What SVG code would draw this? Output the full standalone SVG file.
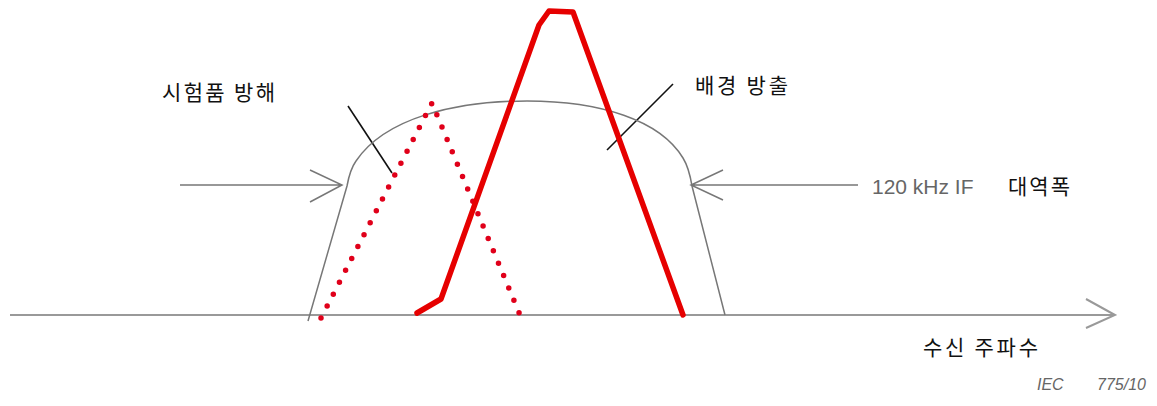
<svg xmlns="http://www.w3.org/2000/svg" width="1157" height="406" viewBox="0 0 1157 406">
<style>
.kr{font-family:"Noto Sans CJK KR","Noto Sans",sans-serif;font-size:21px;fill:#111}
.gl{fill:none;stroke:#777;stroke-width:1.5}
.ax{fill:none;stroke:#999;stroke-width:2}
.ld{stroke:#111;stroke-width:1.6}
.red{fill:none;stroke:#e60000;stroke-width:5.5;stroke-linejoin:round;stroke-linecap:round}
.dot{fill:none;stroke:#e0001a;stroke-width:5.5;stroke-linecap:round;stroke-dasharray:0 13.4}
.iec{font-family:"Liberation Sans",Arial,sans-serif;font-size:16px;font-style:italic;fill:#666}
</style>
<rect width="1157" height="406" fill="#fff"/>
<g id="connectors">
<path id="axis" class="ax" d="M10,315 H1115 M1086,299 L1115,315 L1086,328"/>
<path id="arrow-left" class="gl" d="M180,185 H342 M310,170 L342,185 L310,202"/>
<path id="arrow-right" class="gl" d="M858,185 H691 M723,170 L691,185 L723,200"/>
<line id="leader-dut" class="ld" x1="348" y1="106" x2="392" y2="173"/>
<line id="leader-bg" class="ld" x1="673" y1="84" x2="607" y2="150"/>
</g>
<g id="if-band">
<path class="gl" d="M308,321 L347,186 C349,175 351,168 356,161 C 385,118 455,101 527,101 C 600,101 660,120 683,158 C 688,166 690,174 692,186 L725,315"/>
</g>
<g id="dut-disturbance">
<path class="dot" d="M321,318 L432,103 L520,315"/>
</g>
<g id="background-emission">
<path class="red" d="M417,313 L441,299 L539,25 L549,11 L573,12 L683,315"/>
</g>
<g id="labels">
<text class="kr" x="162" y="100" textLength="113">시험품 방해</text>
<text class="kr" x="695" y="93" textLength="93">배경 방출</text>
<text x="872" y="194" font-family="Liberation Sans, Arial, sans-serif" font-size="21" fill="#666">120 kHz IF</text>
<text class="kr" x="1008" y="194" textLength="62">대역폭</text>
<text class="kr" x="923" y="355" textLength="115">수신 주파수</text>
<text class="iec" x="1037" y="390">IEC</text>
<text class="iec" x="1097" y="390">775/10</text>
</g>
</svg>
